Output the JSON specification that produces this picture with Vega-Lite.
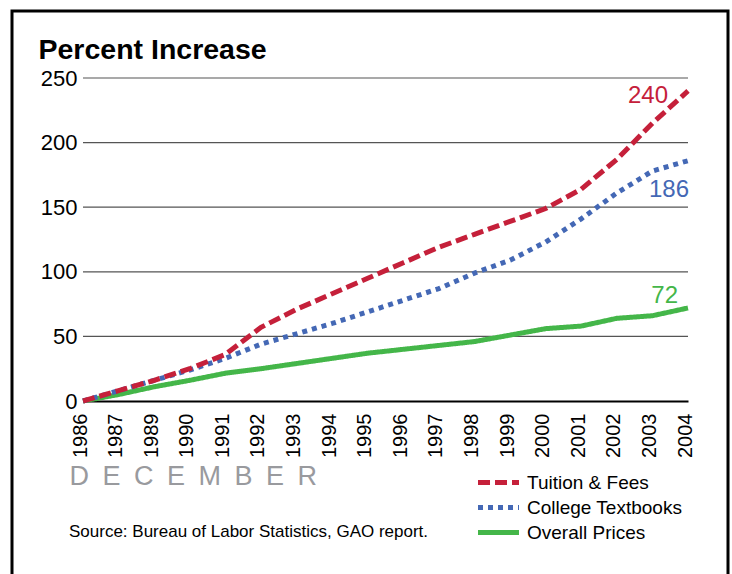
{
  "$schema": "https://vega.github.io/schema/vega-lite/v6.json",
  "width": 716,
  "height": 565,
  "autosize": "none",
  "padding": {"left": 12, "top": 11, "right": 4, "bottom": -2},
  "background": "white",
  "config": {
    "font": "Liberation Sans",
    "view": {"stroke": "black", "strokeWidth": 3}
  },
  "title": {
    "text": "Source: Bureau of Labor Statistics, GAO report.",
    "orient": "bottom",
    "anchor": "start",
    "frame": "group",
    "offset": 0,
    "dx": 57,
    "dy": -39,
    "baseline": "alphabetic",
    "fontSize": 17,
    "fontWeight": "normal",
    "color": "black"
  },
  "datasets": {
    "grid": [{"v": 50}, {"v": 100}, {"v": 150}, {"v": 200}, {"v": 250}],
    "series": [
      {"series": "Overall Prices", "year": "1986", "value": 0},
      {"series": "Overall Prices", "year": "1987", "value": 5},
      {"series": "Overall Prices", "year": "1989", "value": 11},
      {"series": "Overall Prices", "year": "1990", "value": 16},
      {"series": "Overall Prices", "year": "1991", "value": 21.5},
      {"series": "Overall Prices", "year": "1992", "value": 25},
      {"series": "Overall Prices", "year": "1993", "value": 29},
      {"series": "Overall Prices", "year": "1994", "value": 33},
      {"series": "Overall Prices", "year": "1995", "value": 37},
      {"series": "Overall Prices", "year": "1996", "value": 40},
      {"series": "Overall Prices", "year": "1997", "value": 43},
      {"series": "Overall Prices", "year": "1998", "value": 46},
      {"series": "Overall Prices", "year": "1999", "value": 51},
      {"series": "Overall Prices", "year": "2000", "value": 56},
      {"series": "Overall Prices", "year": "2001", "value": 58},
      {"series": "Overall Prices", "year": "2002", "value": 64},
      {"series": "Overall Prices", "year": "2003", "value": 66},
      {"series": "Overall Prices", "year": "2004", "value": 72},
      {"series": "College Textbooks", "year": "1986", "value": 0},
      {"series": "College Textbooks", "year": "1987", "value": 8},
      {"series": "College Textbooks", "year": "1989", "value": 16},
      {"series": "College Textbooks", "year": "1990", "value": 24},
      {"series": "College Textbooks", "year": "1991", "value": 33},
      {"series": "College Textbooks", "year": "1992", "value": 44},
      {"series": "College Textbooks", "year": "1993", "value": 52},
      {"series": "College Textbooks", "year": "1994", "value": 60},
      {"series": "College Textbooks", "year": "1995", "value": 69},
      {"series": "College Textbooks", "year": "1996", "value": 78},
      {"series": "College Textbooks", "year": "1997", "value": 87},
      {"series": "College Textbooks", "year": "1998", "value": 99},
      {"series": "College Textbooks", "year": "1999", "value": 109},
      {"series": "College Textbooks", "year": "2000", "value": 123},
      {"series": "College Textbooks", "year": "2001", "value": 141},
      {"series": "College Textbooks", "year": "2002", "value": 161},
      {"series": "College Textbooks", "year": "2003", "value": 178},
      {"series": "College Textbooks", "year": "2004", "value": 186},
      {"series": "Tuition & Fees", "year": "1986", "value": 0},
      {"series": "Tuition & Fees", "year": "1987", "value": 8},
      {"series": "Tuition & Fees", "year": "1989", "value": 16},
      {"series": "Tuition & Fees", "year": "1990", "value": 25},
      {"series": "Tuition & Fees", "year": "1991", "value": 36},
      {"series": "Tuition & Fees", "year": "1992", "value": 57},
      {"series": "Tuition & Fees", "year": "1993", "value": 71},
      {"series": "Tuition & Fees", "year": "1994", "value": 83},
      {"series": "Tuition & Fees", "year": "1995", "value": 95},
      {"series": "Tuition & Fees", "year": "1996", "value": 107},
      {"series": "Tuition & Fees", "year": "1997", "value": 119},
      {"series": "Tuition & Fees", "year": "1998", "value": 129},
      {"series": "Tuition & Fees", "year": "1999", "value": 139},
      {"series": "Tuition & Fees", "year": "2000", "value": 149},
      {"series": "Tuition & Fees", "year": "2001", "value": 164},
      {"series": "Tuition & Fees", "year": "2002", "value": 187},
      {"series": "Tuition & Fees", "year": "2003", "value": 215},
      {"series": "Tuition & Fees", "year": "2004", "value": 240}
    ]
  },
  "layer": [
    {
      "data": {"name": "grid"},
      "mark": {"type": "rule", "color": "#555555", "strokeWidth": 1.2},
      "encoding": {
        "y": {
          "field": "v", "type": "quantitative",
          "scale": {"domain": [0, 250], "range": [390, 67], "zero": false, "nice": false},
          "axis": {
            "orient": "left", "offset": -71,
            "values": [0, 50, 100, 150, 200, 250],
            "domain": false, "ticks": false, "grid": false,
            "labelFontSize": 22, "labelPadding": 6, "labelColor": "black",
            "title": "Percent Increase", "titleAngle": 0, "titleAlign": "left", "titleBaseline": "alphabetic",
            "titleX": -45, "titleY": 47, "titleFontSize": 28.5, "titleFontWeight": "bold", "titleColor": "black"
          }
        },
        "x": {"datum": "1986", "type": "ordinal"},
        "x2": {"datum": "2004"}
      }
    },
    {
      "data": {"name": "series"},
      "mark": {"type": "line", "strokeWidth": 5, "interpolate": "linear", "strokeCap": "butt"},
      "encoding": {
        "x": {
          "field": "year", "type": "ordinal",
          "scale": {"type": "point", "range": [71, 676], "padding": 0},
          "axis": {
            "orient": "bottom", "offset": -175,
            "domain": true, "domainColor": "black", "domainWidth": 2,
            "ticks": false, "grid": false,
            "labelAngle": -90, "labelAlign": "right", "labelBaseline": "middle",
            "labelFontSize": 20, "labelPadding": 12, "labelColor": "black", "labelOffset": -3,
            "labelFlush": false, "labelOverlap": false,
            "title": "D\u2002E\u2002C\u2002E\u2002M\u2002B\u2002E\u2002R",
            "titleX": 57, "titleY": 83, "titleAlign": "left", "titleBaseline": "alphabetic",
            "titleAnchor": null, "titleAngle": 0,
            "titleFontSize": 27, "titleFontWeight": "normal", "titleColor": "#999a9e"
          }
        },
        "y": {
          "field": "value", "type": "quantitative",
          "scale": {"domain": [0, 250], "range": [390, 67], "zero": false, "nice": false}
        },
        "color": {
          "field": "series", "type": "nominal",
          "scale": {"domain": ["Tuition & Fees", "College Textbooks", "Overall Prices"], "range": ["#c5203a", "#4468b5", "#44b649"]},
          "legend": {
            "title": null, "orient": "none", "legendX": 477, "legendY": 462,
            "labelFontSize": 19, "labelColor": "black", "symbolType": "M-4,0H4", "symbolSize": 105,
            "symbolStrokeWidth": 5, "labelOffset": 19, "rowPadding": 4
          }
        },
        "strokeDash": {
          "field": "series", "type": "nominal",
          "scale": {"domain": ["Tuition & Fees", "College Textbooks", "Overall Prices"], "range": [[12, 5], [5, 5], [1, 0]]},
          "legend": {
            "title": null, "orient": "none", "legendX": 477, "legendY": 462,
            "labelFontSize": 19, "labelColor": "black", "symbolType": "M-4,0H4", "symbolSize": 105,
            "symbolStrokeWidth": 5, "labelOffset": 19, "rowPadding": 4
          }
        }
      }
    },
    {
      "data": {"name": "series"},
      "transform": [{"filter": "datum.series === 'Tuition & Fees' && datum.year === '2004'"}],
      "mark": {"type": "text", "align": "right", "baseline": "alphabetic", "fontSize": 24, "dx": -20, "dy": 12},
      "encoding": {
        "x": {"field": "year", "type": "ordinal"},
        "y": {"field": "value", "type": "quantitative"},
        "text": {"field": "value", "type": "quantitative"},
        "color": {"field": "series", "type": "nominal", "legend": null}
      }
    },
    {
      "data": {"name": "series"},
      "transform": [{"filter": "datum.series === 'College Textbooks' && datum.year === '2004'"}],
      "mark": {"type": "text", "align": "right", "baseline": "alphabetic", "fontSize": 24, "dx": 1, "dy": 36},
      "encoding": {
        "x": {"field": "year", "type": "ordinal"},
        "y": {"field": "value", "type": "quantitative"},
        "text": {"field": "value", "type": "quantitative"},
        "color": {"field": "series", "type": "nominal", "legend": null}
      }
    },
    {
      "data": {"name": "series"},
      "transform": [{"filter": "datum.series === 'Overall Prices' && datum.year === '2004'"}],
      "mark": {"type": "text", "align": "right", "baseline": "alphabetic", "fontSize": 24, "dx": -10, "dy": -5},
      "encoding": {
        "x": {"field": "year", "type": "ordinal"},
        "y": {"field": "value", "type": "quantitative"},
        "text": {"field": "value", "type": "quantitative"},
        "color": {"field": "series", "type": "nominal", "legend": null}
      }
    }
  ]
}
